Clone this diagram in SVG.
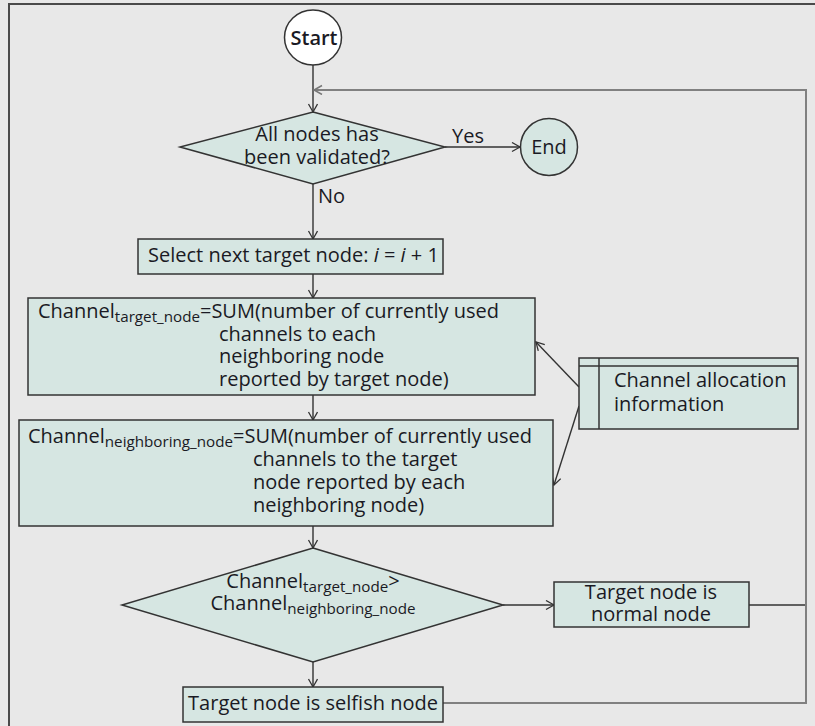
<svg xmlns="http://www.w3.org/2000/svg" width="815" height="726" viewBox="0 0 815 726">
  <defs>
    <marker id="arr" markerUnits="userSpaceOnUse" markerWidth="12" markerHeight="12" refX="9" refY="5" orient="auto">
      <path d="M1,0.5 L9,5 L1,9.5" fill="none" stroke="#333" stroke-width="1.3"/>
    </marker>
    <marker id="arrg" markerUnits="userSpaceOnUse" markerWidth="12" markerHeight="12" refX="9" refY="5" orient="auto">
      <path d="M1,0.5 L9,5 L1,9.5" fill="none" stroke="#777" stroke-width="1.5"/>
    </marker>
  </defs>
  <style>
    .shape { fill: #d6e6e2; stroke: #333; stroke-width: 1.5; }
    .t { font-family: "Open Sans", "Noto Sans", sans-serif; font-size: 20px; fill: #1a1a24; }
    .sub { font-size: 15.2px; }
    .c { fill: none; stroke: #333; stroke-width: 1.4; }
    .loop { fill: none; stroke: #808080; stroke-width: 2; }
  </style>
  <rect x="0" y="0" width="815" height="726" fill="#e8e8e8"/>
  <g id="frame">
    <path d="M9,726 L9,4 L815,4" fill="none" stroke="#4a4a4a" stroke-width="2"/>
  </g>

  <g id="connectors">
    <line class="c" x1="313" y1="65" x2="313" y2="112" marker-end="url(#arr)"/>
    <line class="c" x1="445" y1="147" x2="520" y2="147" marker-end="url(#arr)"/>
    <line class="c" x1="313" y1="184" x2="313" y2="239" marker-end="url(#arr)"/>
    <line class="c" x1="313" y1="274" x2="313" y2="298" marker-end="url(#arr)"/>
    <line class="c" x1="313" y1="395" x2="313" y2="420" marker-end="url(#arr)"/>
    <line class="c" x1="313" y1="526" x2="313" y2="548" marker-end="url(#arr)"/>
    <line class="c" x1="313" y1="662" x2="313" y2="687" marker-end="url(#arr)"/>
    <line class="c" x1="503" y1="605" x2="554" y2="605" marker-end="url(#arr)"/>
    <line class="c" x1="749" y1="605" x2="806" y2="605"/>
    <line class="c" x1="579" y1="387" x2="536" y2="342" marker-end="url(#arr)"/>
    <line class="c" x1="579" y1="406" x2="554" y2="485" marker-end="url(#arr)"/>
    <path class="loop" d="M443,703 L806,703 L806,90 L314,90" marker-end="url(#arrg)"/>
    <text class="t" x="452" y="143">Yes</text>
    <text class="t" x="318" y="203">No</text>
  </g>

  <g id="start">
    <ellipse cx="313" cy="37.5" rx="28.5" ry="27.5" fill="#fff" stroke="#333" stroke-width="1.5"/>
    <text class="t" x="314" y="45" text-anchor="middle" font-weight="600">Start</text>
  </g>

  <g id="decision1">
    <polygon class="shape" points="313,112 445,147 313,184 180,147"/>
    <text class="t" x="317" y="141" text-anchor="middle">All nodes has</text>
    <text class="t" x="317" y="164" text-anchor="middle">been validated?</text>
  </g>

  <g id="end">
    <circle class="shape" cx="549" cy="147" r="28.5"/>
    <text class="t" x="549" y="154" text-anchor="middle">End</text>
  </g>

  <g id="select">
    <rect class="shape" x="138" y="239" width="305" height="35"/>
    <text class="t" x="148" y="262">Select next target node: <tspan font-style="italic">i</tspan> = <tspan font-style="italic">i</tspan> + 1</text>
  </g>

  <g id="channel-target">
    <rect class="shape" x="28" y="298" width="507" height="97"/>
    <text class="t" x="38" y="318">Channel<tspan class="sub" dy="4">target_node</tspan><tspan dy="-4">=SUM(number of currently used</tspan></text>
    <text class="t" x="219" y="340.5">channels to each</text>
    <text class="t" x="219" y="363">neighboring node</text>
    <text class="t" x="219" y="385.5">reported by target node)</text>
  </g>

  <g id="channel-neighbor">
    <rect class="shape" x="19" y="420" width="534" height="106"/>
    <text class="t" x="28" y="443">Channel<tspan class="sub" dy="4">neighboring_node</tspan><tspan dy="-4">=SUM(number of currently used</tspan></text>
    <text class="t" x="253" y="466">channels to the target</text>
    <text class="t" x="253" y="489">node reported by each</text>
    <text class="t" x="253" y="512">neighboring node)</text>
  </g>

  <g id="channel-info">
    <rect class="shape" x="579" y="358" width="219" height="71"/>
    <line x1="579" y1="366" x2="798" y2="366" stroke="#333" stroke-width="1.5"/>
    <line x1="599" y1="358" x2="599" y2="429" stroke="#333" stroke-width="1.5"/>
    <text class="t" x="614" y="387">Channel allocation</text>
    <text class="t" x="614" y="411">information</text>
  </g>

  <g id="decision2">
    <polygon class="shape" points="313,548 503,605 313,662 122,605"/>
    <text class="t" x="313" y="588" text-anchor="middle">Channel<tspan class="sub" dy="4">target_node</tspan><tspan dy="-4">&gt;</tspan></text>
    <text class="t" x="313" y="610" text-anchor="middle">Channel<tspan class="sub" dy="4">neighboring_node</tspan></text>
  </g>

  <g id="normal">
    <rect class="shape" x="554" y="582" width="195" height="45"/>
    <text class="t" x="651" y="599" text-anchor="middle">Target node is</text>
    <text class="t" x="651" y="621" text-anchor="middle">normal node</text>
  </g>

  <g id="selfish">
    <rect class="shape" x="183" y="687" width="260" height="35"/>
    <text class="t" x="313" y="710" text-anchor="middle">Target node is selfish node</text>
  </g>
</svg>
